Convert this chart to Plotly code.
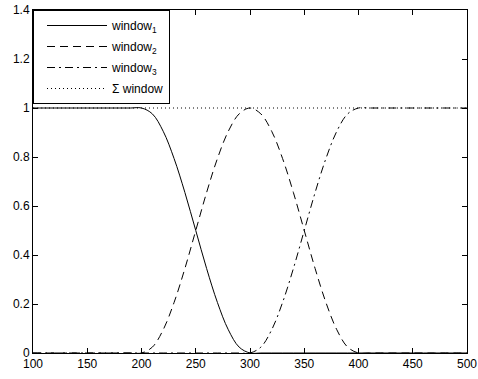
import plotly.graph_objects as go

x = [100, 110, 120, 130, 140, 150, 160, 170, 180, 190,
     200, 210, 220, 230, 240, 250, 260, 270, 280, 290,
     300, 310, 320, 330, 340, 350, 360, 370, 380, 390,
     400, 410, 420, 430, 440, 450, 460, 470, 480, 490, 500]

window1 = [1, 1, 1, 1, 1, 1, 1, 1, 1, 1,
           1, 0.976, 0.905, 0.794, 0.655, 0.5, 0.345, 0.206, 0.095, 0.024,
           0, 0, 0, 0, 0, 0, 0, 0, 0, 0,
           0, 0, 0, 0, 0, 0, 0, 0, 0, 0, 0]

window2 = [0, 0, 0, 0, 0, 0, 0, 0, 0, 0,
           0, 0.024, 0.095, 0.206, 0.345, 0.5, 0.655, 0.794, 0.905, 0.976,
           1, 0.976, 0.905, 0.794, 0.655, 0.5, 0.345, 0.206, 0.095, 0.024,
           0, 0, 0, 0, 0, 0, 0, 0, 0, 0, 0]

window3 = [0, 0, 0, 0, 0, 0, 0, 0, 0, 0,
           0, 0, 0, 0, 0, 0, 0, 0, 0, 0,
           0, 0.024, 0.095, 0.206, 0.345, 0.5, 0.655, 0.794, 0.905, 0.976,
           1, 1, 1, 1, 1, 1, 1, 1, 1, 1, 1]

window_sum = [1] * 41

names = ["window<sub>1</sub>", "window<sub>2</sub>", "window<sub>3</sub>", "\u03a3 window"]
x_ticks = [100, 150, 200, 250, 300, 350, 400, 450, 500]
y_ticks = [0, 0.2, 0.4, 0.6, 0.8, 1, 1.2, 1.4]
y_tick_text = ["0", "0.2", "0.4", "0.6", "0.8", "1", "1.2", "1.4"]

fig = go.Figure()
series = [window1, window2, window3, window_sum]
dashes = ["solid", "8px,5px", "8px,4px,2px,4px", "1px,3px"]
for i, (y, n, d) in enumerate(zip(series, names, dashes)):
    fig.add_trace(go.Scatter(x=x, y=y, name=n, mode="lines", legendgroup=f"g{i}",
                             line=dict(color="black", width=1, dash=d, shape="spline")))

axis_common = dict(showline=True, linecolor="black", linewidth=1, mirror="ticks",
                   ticks="inside", ticklen=5, tickcolor="black", showgrid=False,
                   zeroline=False, automargin=False,
                   tickfont=dict(family="Liberation Sans, Arial", size=12, color="black"))

fig.update_xaxes(range=[100, 500], tickvals=x_ticks, **axis_common)
fig.update_yaxes(range=[0, 1.4], tickvals=y_ticks, ticktext=y_tick_text, **axis_common)

fig.update_layout(
    width=478, height=379,
    margin=dict(l=33, r=11, t=10, b=26),
    plot_bgcolor="white", paper_bgcolor="white",
    font=dict(family="Liberation Sans, Arial", size=12, color="black"),
    legend=dict(x=0, y=1, xanchor="left", yanchor="top", bordercolor="black",
                borderwidth=1, bgcolor="white", font=dict(size=12),
                itemwidth=60, tracegroupgap=2, indentation=8),
)

fig.write_html("out.html")
